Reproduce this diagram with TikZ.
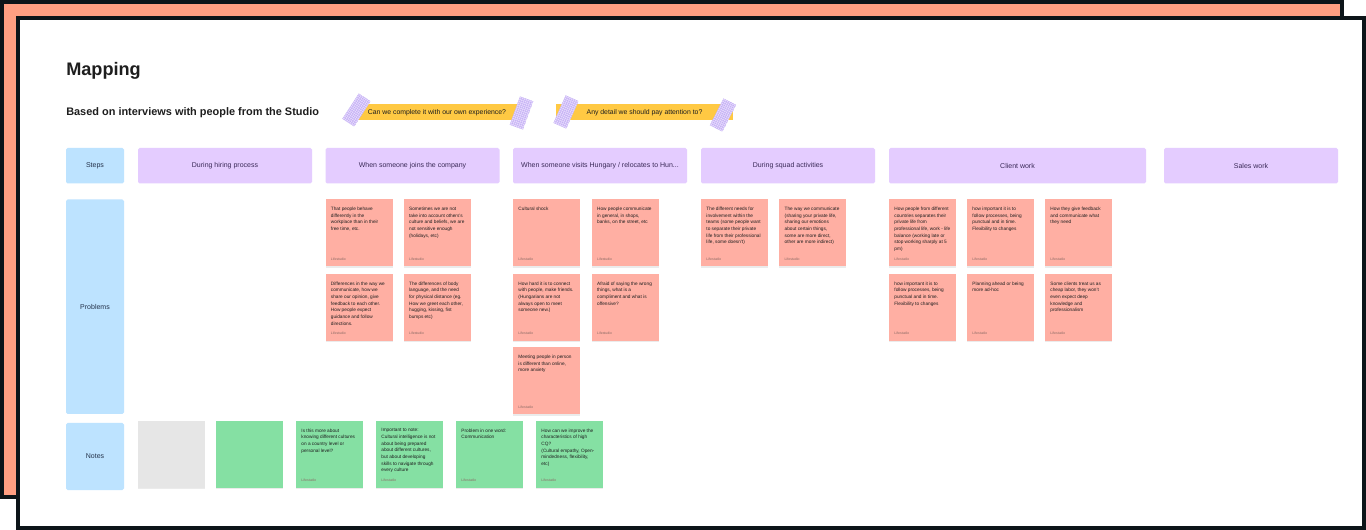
\documentclass[tikz,border=0pt]{standalone}
\usepackage{fontspec}
\setmainfont{Liberation Sans}
\usetikzlibrary{shadows}
\definecolor{frameblack}{HTML}{0D1519}
\definecolor{backorange}{HTML}{FF9F82}
\definecolor{rowblue}{HTML}{BDE3FF}
\definecolor{steppurple}{HTML}{E4CCFF}
\definecolor{notered}{HTML}{FFAFA3}
\definecolor{notegreen}{HTML}{85E0A3}
\definecolor{notegray}{HTML}{E6E6E6}
\definecolor{tapeyellow}{HTML}{FFC943}
\definecolor{washi}{HTML}{E6DBFD}
\definecolor{washiline}{HTML}{BBA3F2}
\definecolor{ink}{HTML}{1E1E1E}
\definecolor{rowink}{HTML}{24324A}
\definecolor{stepink}{HTML}{3A2A58}
\definecolor{tagink}{HTML}{8A6A64}
\tikzset{
  x=0.75pt,y=-0.75pt,
  band/.style={anchor=north west,inner sep=0,outer sep=0,rounded corners=1.2pt},
  bandtext/.style={inner sep=0,outer sep=0,font=\fontsize{5.25}{7}\selectfont},
  stickybox/.style={anchor=north west,inner sep=0,outer sep=0,minimum width=50.25pt,minimum height=50.25pt,general shadow={fill=black,opacity=.08,shadow yshift=-.8pt}},
  stickytext/.style={anchor=north west,inner sep=0,outer sep=0,align=left,text=ink,font=\fontsize{3.55}{5}\selectfont},
  stickytag/.style={anchor=west,inner sep=0,outer sep=0,text=tagink,font=\fontsize{2.6}{3}\selectfont},
  tapelabel/.style={inner sep=0,outer sep=0,text=ink,font=\fontsize{5.15}{6}\selectfont},
}
\newcommand{\sticky}[6]{%
  \node[stickybox,fill=#4] (#1) at (#2,#3) {};
  \node[stickytext] (#1-t) at ([xshift=4.1pt,yshift=-5.8pt]#1.north west) {#5};
  \node[stickytag] (#1-a) at ([xshift=4.1pt,yshift=5.6pt]#1.south west) {#6};
}
\newcommand{\bandbox}[8]{%
  \node[band,fill=#4,minimum width=#5*0.75pt,minimum height=#6*0.75pt] (#1) at (#2,#3) {};
  \node[bandtext,text=#7] (#1-t) at (#1.center) {#8};
}
\newcommand{\washitape}[3]{%
  \begin{scope}[shift={(#1,#2)},rotate=#3]
    \fill[washi] (-7,-15) rectangle (7,15);
    \begin{scope}
      \clip (-7,-15) rectangle (7,15);
      \foreach \k in {-7,-5,...,7} \draw[washiline,line width=.2pt] (\k,-15) -- (\k,15);
      \foreach \k in {-15,-13,...,15} \draw[washiline,line width=.2pt] (-7,\k) -- (7,\k);
    \end{scope}
  \end{scope}
}
\begin{document}
\begin{tikzpicture}
\useasboundingbox (0,0) rectangle (1366,530);
\fill[white] (0,0) rectangle (1366,530);
\fill[frameblack] (0,0) rectangle (1344,499);
\fill[backorange] (4,4) rectangle (1340,495);
\fill[frameblack] (16,16) rectangle (1366,530);
\fill[white] (20,20) rectangle (1362,526);

\node[anchor=west,inner sep=0,text=ink,font=\fontsize{13.6}{16}\selectfont\bfseries] (title) at (66,70.5) {Mapping};
\node[anchor=west,inner sep=0,text=ink,font=\fontsize{8.2}{11}\selectfont\bfseries] (subtitle) at (66,112.5) {Based on interviews with people from the Studio};

% yellow labels
\fill[tapeyellow] (358,104) rectangle (517,120);
\fill[tapeyellow] (556,104) rectangle (733,120);
\node[tapelabel] (q1) at (437,112.5) {Can we complete it with our own experience?};
\node[tapelabel] (q2) at (644.5,112.5) {Any detail we should pay attention to?};
\washitape{356.5}{110}{-33}
\washitape{521.5}{113}{-20}
\washitape{566}{112}{-24}
\washitape{723}{115}{-27}

% row headers
\bandbox{rsteps}{66}{148}{rowblue}{58}{35.5}{rowink}{Steps}
\bandbox{rprob}{66}{199.5}{rowblue}{58}{214.5}{rowink}{Problems}
\bandbox{rnotes}{66}{423}{rowblue}{58}{67}{rowink}{Notes}

% step headers
\bandbox{s1}{138}{148}{steppurple}{174}{35.5}{stepink}{During hiring process}
\bandbox{s2}{325.5}{148}{steppurple}{174}{35.5}{stepink}{When someone joins the company}
\bandbox{s3}{513}{148}{steppurple}{174}{35.5}{stepink}{When someone visits Hungary / relocates to Hun...}
\bandbox{s4}{701}{148}{steppurple}{174}{35.5}{stepink}{During squad activities}
\bandbox{s5}{889}{148}{steppurple}{257}{35.5}{stepink}{Client work}
\bandbox{s6}{1164}{148}{steppurple}{174}{35.5}{stepink}{Sales work}

% problems
\sticky{a1}{325.5}{199.5}{notered}{That people behave\\differently in the\\workplace than in their\\free time, etc.}{Lifestudio}
\sticky{a2}{403.7}{199.5}{notered}{Sometimes we are not\\take into account others's\\culture and beliefs, we are\\not sensitive enough\\(holidays, etc)}{Lifestudio}
\sticky{a3}{325.5}{274}{notered}{Differences in the way we\\communicate, how we\\share our opinion, give\\feedback to each other.\\How people expect\\guidance and follow\\directions.}{Lifestudio}
\sticky{a4}{403.7}{274}{notered}{The differences of body\\language, and the need\\for physical distance (eg.\\How we greet each other,\\hugging, kissing, fist\\bumps etc)}{Lifestudio}
\sticky{b1}{513}{199.5}{notered}{Cultural shock}{Lifestudio}
\sticky{b2}{591.7}{199.5}{notered}{How people communicate\\in general, in shops,\\banks, on the street, etc}{Lifestudio}
\sticky{b3}{513}{274}{notered}{How hard it is to connect\\with people, make friends.\\(Hungarians are not\\always open to meet\\someone new.)}{Lifestudio}
\sticky{b4}{591.7}{274}{notered}{Afraid of saying the wrong\\things, what is a\\compliment and what is\\offensive?}{Lifestudio}
\sticky{b5}{513}{347.5}{notered}{Meeting people in person\\is different than online,\\more anxiety}{Lifestudio}
\sticky{c1}{701}{199.5}{notered}{The different needs for\\involvement within the\\teams (some people want\\to separate their private\\life from their professional\\life, some doesn't)}{Lifestudio}
\sticky{c2}{779.2}{199.5}{notered}{The way we communicate\\(sharing your private life,\\sharing our emotions\\about certain things,\\some are more direct,\\other are more indirect)}{Lifestudio}
\sticky{d1}{889}{199.5}{notered}{How people from different\\countries separates their\\private life from\\professional life, work - life\\balance (working late or\\stop working sharply at 5\\pm)}{Lifestudio}
\sticky{d2}{967}{199.5}{notered}{how important it is to\\follow processes, being\\punctual and in time.\\Flexibility to changes}{Lifestudio}
\sticky{d3}{1045}{199.5}{notered}{How they give feedback\\and communicate what\\they need}{Lifestudio}
\sticky{d4}{889}{274}{notered}{how important it is to\\follow processes, being\\punctual and in time.\\Flexibility to changes}{Lifestudio}
\sticky{d5}{967}{274}{notered}{Planning ahead or being\\more ad-hoc}{Lifestudio}
\sticky{d6}{1045}{274}{notered}{Some clients treat us as\\cheap labor, they won't\\even expect deep\\knowledge and\\professionalism}{Lifestudio}

% notes
\node[stickybox,fill=notegray] (n0) at (137.5,421) {};
\node[stickybox,fill=notegreen] (n1) at (216.3,421) {};
\sticky{n2}{296}{421}{notegreen}{Is this more about\\knowing different cultures\\on a country level or\\personal level?}{Lifestudio}
\sticky{n3}{376}{421}{notegreen}{Important to note:\\Cultural intelligence is not\\about being prepared\\about different cultures,\\but about developing\\skills to navigate through\\every culture}{Lifestudio}
\sticky{n4}{456}{421}{notegreen}{Problem in one word:\\Communication}{Lifestudio}
\sticky{n5}{536}{421}{notegreen}{How can we improve the\\characteristics of high\\CQ?\\(Cultural empathy, Open-\\mindedness, flexibility,\\etc)}{Lifestudio}
\end{tikzpicture}
\end{document}
